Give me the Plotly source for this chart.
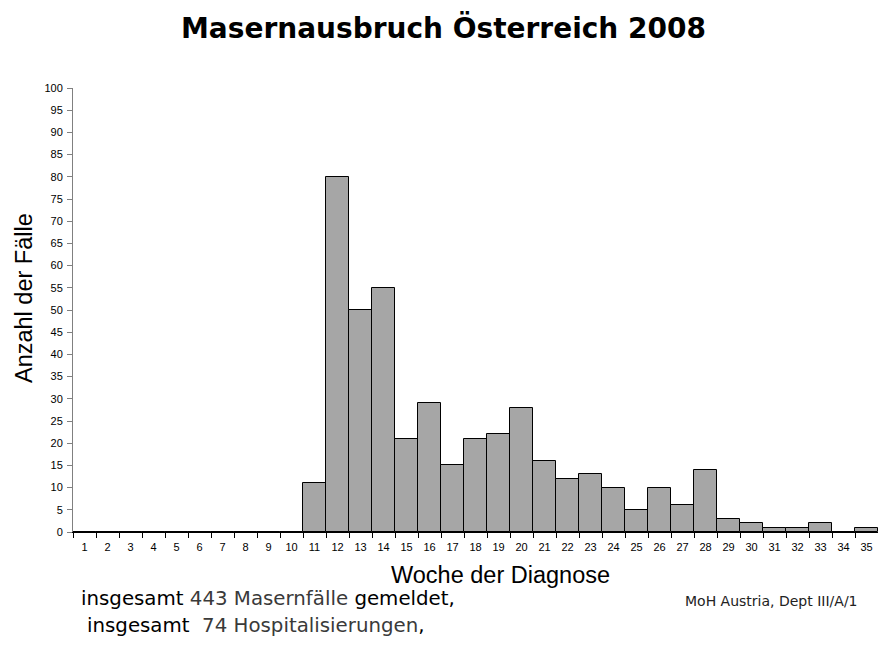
import plotly.graph_objects as go

weeks = [str(w) for w in range(1, 36)]
cases = [0, 0, 0, 0, 0, 0, 0, 0, 0, 0,
         11, 80, 50, 55, 21, 29, 15, 21, 22, 28,
         16, 12, 13, 10, 5, 10, 6, 14, 3, 2,
         1, 1, 2, 0, 1]
y_ticks = list(range(0, 101, 5))

title_text = "Masernausbruch Österreich 2008"
x_title = "Woche der Diagnose"
y_title = "Anzahl der Fälle"
note1 = "insgesamt <span style='color:#3a3a3a'>443 Masernfälle</span> gemeldet,"
note2 = "insgesamt&nbsp;&nbsp;<span style='color:#3a3a3a'>74 Hospitalisierungen</span>,"
source = "MoH Austria, Dept III/A/1"

# page has an 8px body margin; positions below are measured in screenshot pixels
OFF = 8
W, H = 886 - 2 * OFF, 647 - 2 * OFF
plot_left, plot_right, plot_top, plot_bottom = 73, 878, 87.5, 532.5
L = plot_left - OFF
R = W - (plot_right - OFF)
T = plot_top - OFF
B = H - (plot_bottom - OFF)
pw = plot_right - plot_left
ph = plot_bottom - plot_top


def px(x):
    return (x - plot_left) / pw


def py(y):
    return (plot_bottom - y) / ph


fig = go.Figure(go.Bar(
    x=weeks, y=cases,
    marker=dict(color="#a6a6a6", line=dict(color="black", width=1)),
))

fig.update_layout(
    width=W, height=H,
    margin=dict(l=L, r=R, t=T, b=B),
    plot_bgcolor="white", paper_bgcolor="white",
    bargap=0, showlegend=False,
    font=dict(family="Liberation Sans, Arial", color="black"),
)
fig.update_xaxes(
    type="category", range=[-0.5, 34.5],
    showline=True, linecolor="black", linewidth=1,
    ticks="outside", tickson="boundaries", ticklen=5, tickcolor="black",
    tickfont=dict(size=11, family="Liberation Sans, Arial"),
    ticklabelstandoff=5,
    showgrid=False, zeroline=False,
)
fig.update_yaxes(
    range=[0, 100], tickvals=y_ticks,
    showline=True, linecolor="#808080", linewidth=1,
    ticks="outside", ticklen=5, tickcolor="#808080",
    tickfont=dict(size=11, family="Liberation Sans, Arial"),
    ticklabelstandoff=2,
    showgrid=False, zeroline=False,
)

ann = [
    dict(text="<b>" + title_text + "</b>", x=px(443), y=py(27), xanchor="center", yanchor="middle",
         font=dict(family="DejaVu Sans", size=28, color="black")),
    dict(text=y_title, x=px(24), y=py(298), textangle=-90, xanchor="center", yanchor="middle",
         font=dict(family="Liberation Sans, Arial", size=23.5, color="black")),
    dict(text=x_title, x=px(500), y=py(576), xanchor="center", yanchor="middle",
         font=dict(family="Liberation Sans, Arial", size=23.5, color="black")),
    dict(text=note1, x=px(79), y=py(599), xanchor="left", yanchor="middle",
         font=dict(family="DejaVu Sans", size=19.8, color="black")),
    dict(text=note2, x=px(85), y=py(626), xanchor="left", yanchor="middle",
         font=dict(family="DejaVu Sans", size=19.8, color="black")),
    dict(text=source, x=px(683), y=py(602), xanchor="left", yanchor="middle",
         font=dict(family="DejaVu Sans", size=14, color="#222222")),
]
for a in ann:
    a.update(xref="paper", yref="paper", showarrow=False)
fig.update_layout(annotations=ann)

fig.write_html("out.html")
